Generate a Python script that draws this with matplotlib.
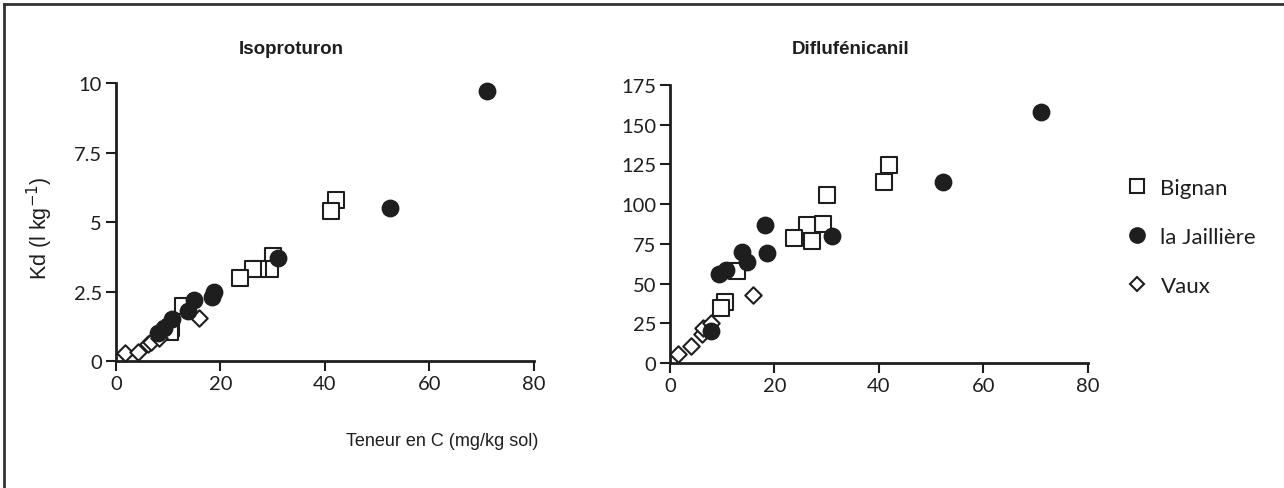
import matplotlib
matplotlib.use("Agg")
import matplotlib.pyplot as plt
from matplotlib.lines import Line2D

# Isoproturon: C content (x) vs Kd (y)
iso_bignan_x = [42.1, 41.1, 30.1, 29.5, 27.2, 26.3, 23.8, 12.8, 10.6, 10.3]
iso_bignan_y = [5.80, 5.39, 3.79, 3.31, 3.31, 3.31, 3.00, 1.99, 1.20, 1.05]
iso_jail_x = [71.1, 52.4, 31.1, 18.8, 18.3, 15.0, 13.8, 10.8, 9.2, 8.0]
iso_jail_y = [9.70, 5.49, 3.70, 2.49, 2.30, 2.20, 1.80, 1.50, 1.20, 1.00]
iso_vaux_x = [1.7, 4.3, 6.2, 6.8, 8.2, 15.9]
iso_vaux_y = [0.28, 0.34, 0.60, 0.69, 0.84, 1.53]

# Diflufenicanil
dif_bignan_x = [42.0, 41.0, 30.1, 29.2, 26.3, 27.1, 23.8, 12.8, 10.5, 9.8]
dif_bignan_y = [124.6, 114.1, 105.7, 87.8, 87.0, 76.9, 78.4, 58.2, 38.4, 34.5]
dif_jail_x = [71.0, 52.3, 31.0, 18.1, 18.6, 13.8, 14.8, 10.7, 9.3, 7.9]
dif_jail_y = [157.8, 113.7, 79.8, 86.8, 69.3, 70.0, 63.7, 58.6, 55.9, 20.2]
dif_vaux_x = [1.6, 4.0, 6.1, 6.4, 7.8, 15.8]
dif_vaux_y = [5.9, 10.7, 18.1, 22.3, 25.5, 43.1]

labels = ["Bignan", "la Jaillière", "Vaux"]
iso_yticks = [0, 2.5, 5, 7.5, 10]
iso_yticklabels = ["0", "2.5", "5", "7.5", "10"]
dif_yticks = [0, 25, 50, 75, 100, 125, 150, 175]
xticks = [0, 20, 40, 60, 80]

tick_font = "Lato"
head_font = "Liberation Sans"
col = "#1e1e1e"

fig = plt.figure(figsize=(12.84, 4.89), dpi=100)
ax1 = fig.add_axes([0.0903, 0.2597, 0.3255, 0.5685])
ax2 = fig.add_axes([0.5218, 0.2556, 0.3255, 0.5685])


def style(ax, yticks, ylim, ylabels=None):
    ax.set_xlim(0, 80)
    ax.set_ylim(*ylim)
    for s in ["top", "right"]:
        ax.spines[s].set_visible(False)
    for s in ["left", "bottom"]:
        ax.spines[s].set_linewidth(2)
        ax.spines[s].set_color(col)
    ax.set_xticks(xticks)
    ax.set_yticks(yticks)
    if ylabels is not None:
        ax.set_yticklabels(ylabels)
    ax.tick_params(direction="out", length=7, width=1.5, color=col,
                   labelsize=14.5, labelcolor=col, pad=3)
    for t in ax.get_xticklabels() + ax.get_yticklabels():
        t.set_fontfamily(tick_font)
    ax.patch.set_visible(False)


def draw(ax, bx, by, jx, jy, vx, vy):
    ax.scatter(bx, by, marker="s", s=120, facecolors="white",
               edgecolors=col, linewidths=1.5, zorder=3, clip_on=False)
    ax.scatter(vx, vy, marker="D", s=70, facecolors="white",
               edgecolors=col, linewidths=1.5, zorder=3, clip_on=False)
    ax.scatter(jx, jy, marker="o", s=140, color=col, zorder=4, clip_on=False)


draw(ax1, iso_bignan_x, iso_bignan_y, iso_jail_x, iso_jail_y, iso_vaux_x, iso_vaux_y)
draw(ax2, dif_bignan_x, dif_bignan_y, dif_jail_x, dif_jail_y, dif_vaux_x, dif_vaux_y)
style(ax1, iso_yticks, (0, 10), iso_yticklabels)
style(ax2, dif_yticks, (0, 175))

# titles and axis labels
fig.text(291 / 1284, 1 - 50 / 489, "Isoproturon", ha="center", va="center",
         fontsize=13.5, fontweight="bold", family=head_font, color=col)
fig.text(851 / 1284, 1 - 50 / 489, "Diflufénicanil", ha="center", va="center",
         fontsize=13.5, fontweight="bold", family=head_font, color=col)
fig.text(442 / 1284, 1 - 442 / 489, "Teneur en C (mg/kg sol)", ha="center",
         va="center", fontsize=13, family=head_font, color=col)
fig.text(40 / 1284, 1 - 228 / 489, "Kd (l kg$^{-1}$)", ha="center", va="center",
         rotation=90, fontsize=15.5, family=head_font, color=col)

# legend
handles = [
    Line2D([], [], ls="none", marker="s", ms=10, mfc="white", mec=col, mew=1.5),
    Line2D([], [], ls="none", marker="o", ms=11, mfc=col, mec=col),
    Line2D([], [], ls="none", marker="D", ms=7.5, mfc="white", mec=col, mew=1.5),
]
leg = fig.legend(handles, labels, loc="center left",
                 bbox_to_anchor=(1106 / 1284, 1 - 238 / 489), frameon=False,
                 labelspacing=1.3, handlelength=1.0, handletextpad=0.55,
                 prop={"family": tick_font, "size": 16})
for t in leg.get_texts():
    t.set_color(col)

# frame lines (top and left)
fig.add_artist(Line2D([4 / 1284, 1], [1 - 5 / 489, 1 - 5 / 489],
                      transform=fig.transFigure, color="#333333", lw=2))
fig.add_artist(Line2D([4 / 1284, 4 / 1284], [0, 1 - 5 / 489],
                      transform=fig.transFigure, color="#333333", lw=2))

fig.savefig("out.png", dpi=100)
